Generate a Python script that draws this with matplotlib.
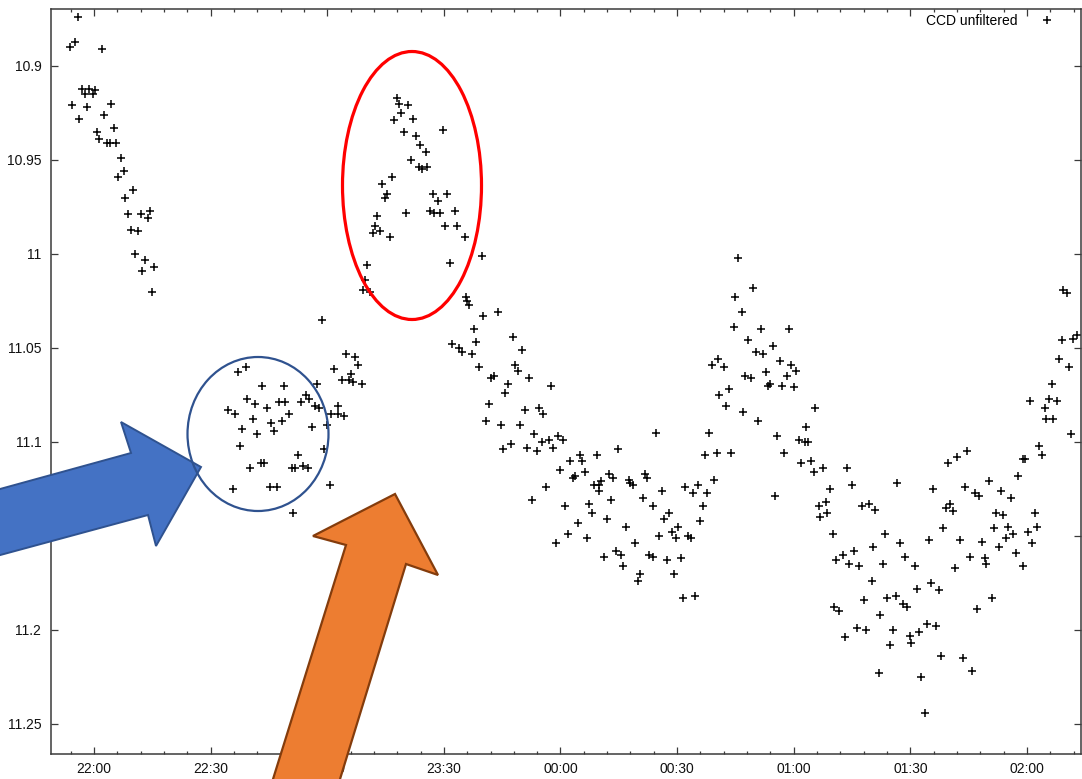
import matplotlib
matplotlib.use('Agg')
import matplotlib.pyplot as plt
from matplotlib.patches import Ellipse, Polygon
from matplotlib.ticker import FixedLocator, MultipleLocator, NullLocator

plt.rcParams['font.family'] = ['Liberation Sans', 'DejaVu Sans']

# ---------------- data: (minutes after 22:00, magnitude) ----------------
seg_a = [(-4.2, 10.874), (-4.9, 10.887), (-6.2, 10.890), (2.0, 10.891), (-3.0, 10.912),
         (-1.2, 10.912), (-2.3, 10.915), (-0.3, 10.915), (0.3, 10.913), (-5.6, 10.921),
         (-1.9, 10.922), (4.4, 10.920), (-3.8, 10.928), (2.5, 10.926), (5.1, 10.933),
         (0.7, 10.935), (1.4, 10.939), (3.3, 10.941), (4.1, 10.941), (5.7, 10.941),
         (6.9, 10.949), (7.6, 10.956), (6.2, 10.959), (10.0, 10.966), (8.1, 10.970),
         (8.7, 10.979), (12.0, 10.979), (14.3, 10.977), (13.9, 10.981), (9.5, 10.987),
         (11.3, 10.988), (10.5, 11.000), (13.1, 11.003), (12.4, 11.009), (15.5, 11.007),
         (15.0, 11.020)]

seg_b = [(58.6, 11.035), (64.8, 11.053), (67.1, 11.055), (68.0, 11.059), (61.8, 11.061),
         (66.0, 11.064), (63.7, 11.067), (65.7, 11.067), (66.7, 11.068), (57.4, 11.069),
         (68.9, 11.069), (37.1, 11.063), (39.0, 11.060), (43.2, 11.070), (48.9, 11.070),
         (39.4, 11.077), (41.4, 11.080), (44.4, 11.082), (47.5, 11.079), (49.2, 11.079),
         (53.2, 11.079), (54.5, 11.075), (55.4, 11.077), (56.8, 11.081), (57.9, 11.082),
         (34.6, 11.083), (36.4, 11.085), (50.1, 11.085), (40.8, 11.088), (45.6, 11.090),
         (48.3, 11.089), (46.4, 11.094), (38.2, 11.093), (41.9, 11.096), (56.2, 11.092),
         (60.0, 11.091), (62.8, 11.081), (61.0, 11.085), (62.7, 11.085), (64.4, 11.086),
         (37.6, 11.102), (59.2, 11.104), (52.5, 11.107), (43.0, 11.111), (43.8, 11.111),
         (40.1, 11.114), (50.9, 11.114), (51.8, 11.114), (53.8, 11.113), (55.1, 11.114),
         (35.7, 11.125), (45.3, 11.124), (47.0, 11.124), (60.7, 11.123), (51.3, 11.138)]

seg_c = [(77.9, 10.917), (78.4, 10.920), (80.9, 10.921), (79.1, 10.925), (77.3, 10.929),
         (82.1, 10.928), (79.7, 10.935), (89.7, 10.934), (82.8, 10.937), (83.9, 10.942),
         (85.4, 10.946), (81.5, 10.950), (83.7, 10.954), (84.5, 10.955), (85.7, 10.954),
         (76.6, 10.959), (74.2, 10.963), (74.8, 10.970), (75.4, 10.968), (87.3, 10.968),
         (90.9, 10.968), (88.4, 10.972), (80.3, 10.978), (86.4, 10.977), (87.4, 10.978),
         (89.0, 10.978), (92.8, 10.977), (72.9, 10.980), (72.2, 10.985), (71.7, 10.989),
         (73.6, 10.988), (76.1, 10.991), (90.3, 10.985), (93.5, 10.985), (95.4, 10.991),
         (99.7, 11.001), (91.6, 11.005), (70.3, 11.006), (69.7, 11.014), (69.1, 11.019),
         (71.0, 11.020), (95.7, 11.023)]

seg_d = [(95.9, 11.025), (96.5, 11.027), (100.1, 11.033), (103.8, 11.031), (97.7, 11.040),
         (107.7, 11.044), (92.0, 11.048), (98.3, 11.047), (94.0, 11.050), (94.6, 11.052),
         (97.2, 11.053), (110.2, 11.051), (99.0, 11.060), (108.3, 11.059), (109.0, 11.062),
         (102.0, 11.066), (103.0, 11.065), (112.0, 11.066), (106.4, 11.069), (105.7, 11.074),
         (117.5, 11.070), (101.5, 11.080), (110.8, 11.083), (114.5, 11.082), (115.6, 11.085),
         (100.8, 11.089), (104.6, 11.091), (109.6, 11.091), (113.2, 11.096), (115.2, 11.100),
         (117.1, 11.099), (119.4, 11.097), (120.7, 11.099), (105.3, 11.104), (107.2, 11.101),
         (111.4, 11.103), (113.9, 11.105), (118.1, 11.103), (122.4, 11.110), (125.0, 11.107),
         (125.5, 11.110), (129.3, 11.107), (134.7, 11.104), (144.7, 11.095), (120.0, 11.115),
         (116.4, 11.124), (123.1, 11.119), (123.8, 11.118), (126.4, 11.116), (132.5, 11.117),
         (133.6, 11.119), (128.5, 11.123), (130.0, 11.123), (130.4, 11.121), (129.8, 11.126),
         (137.7, 11.120), (138.0, 11.122), (138.6, 11.123), (141.7, 11.117), (142.3, 11.119),
         (146.0, 11.126), (112.7, 11.131), (121.2, 11.134), (127.4, 11.133), (133.0, 11.131),
         (141.1, 11.130), (143.7, 11.134), (128.1, 11.138), (131.9, 11.141), (124.5, 11.143),
         (136.8, 11.145), (121.9, 11.149), (126.8, 11.151), (148.0, 11.138), (146.6, 11.141),
         (150.3, 11.145), (148.6, 11.148), (149.7, 11.151), (145.4, 11.150), (152.9, 11.150),
         (153.5, 11.151), (152.0, 11.124), (154.0, 11.127), (155.4, 11.123), (157.8, 11.127),
         (156.6, 11.134), (155.9, 11.142), (159.5, 11.120), (157.2, 11.107), (160.2, 11.106),
         (158.3, 11.095), (159.0, 11.059), (160.6, 11.056), (160.8, 11.075), (118.8, 11.154),
         (131.2, 11.161), (134.3, 11.158), (135.5, 11.160), (136.2, 11.166), (139.2, 11.154),
         (140.4, 11.170), (139.9, 11.174), (142.8, 11.160), (143.9, 11.161), (147.3, 11.163),
         (151.0, 11.162), (149.2, 11.170), (151.6, 11.183), (154.7, 11.182)]

seg_e = [(165.7, 11.002), (169.4, 11.018), (165.0, 11.023), (166.6, 11.031), (164.6, 11.039),
         (171.5, 11.040), (178.8, 11.040), (168.3, 11.046), (170.2, 11.052), (172.0, 11.053),
         (174.6, 11.049), (176.4, 11.057), (179.3, 11.059), (180.7, 11.062), (162.1, 11.060),
         (172.8, 11.063), (167.4, 11.065), (169.0, 11.066), (178.2, 11.065), (173.3, 11.070),
         (173.9, 11.069), (177.0, 11.070), (180.1, 11.071), (163.4, 11.072), (162.7, 11.081),
         (167.0, 11.084), (170.9, 11.089), (185.6, 11.082), (183.1, 11.092), (175.7, 11.097),
         (181.3, 11.099), (182.9, 11.100), (183.8, 11.100), (163.8, 11.106), (177.5, 11.106),
         (181.8, 11.111), (184.5, 11.110), (185.1, 11.116), (187.5, 11.114), (193.7, 11.114),
         (194.9, 11.123), (189.4, 11.125), (175.2, 11.129), (186.4, 11.134), (188.3, 11.132),
         (188.6, 11.138), (186.7, 11.140), (197.5, 11.134), (199.3, 11.133), (201.0, 11.136),
         (206.5, 11.122), (190.2, 11.149), (203.6, 11.149)]

seg_f = [(215.9, 11.125), (219.8, 11.111), (222.0, 11.108), (224.6, 11.105), (224.1, 11.124),
         (226.7, 11.127), (227.7, 11.129), (230.3, 11.121), (233.3, 11.126), (235.8, 11.130),
         (220.2, 11.133), (219.1, 11.135), (221.0, 11.137), (218.4, 11.146), (232.0, 11.138),
         (233.9, 11.139), (237.6, 11.118), (238.9, 11.109), (239.5, 11.109), (243.1, 11.102),
         (243.8, 11.107), (231.5, 11.146), (235.2, 11.145), (236.4, 11.149), (234.6, 11.151),
         (240.2, 11.148), (242.7, 11.145), (242.0, 11.138), (251.2, 11.096), (240.7, 11.078),
         (244.6, 11.082), (245.7, 11.077), (247.6, 11.078), (244.9, 11.088), (246.7, 11.088),
         (246.4, 11.069), (248.3, 11.056), (250.8, 11.060), (248.9, 11.046), (251.9, 11.045),
         (252.8, 11.043), (249.3, 11.019), (250.2, 11.021)]

seg_g = [(214.8, 11.152), (222.9, 11.152), (228.4, 11.153), (207.3, 11.154), (200.4, 11.156),
         (191.0, 11.163), (192.6, 11.160), (195.5, 11.158), (194.3, 11.165), (196.8, 11.166),
         (203.0, 11.165), (208.5, 11.161), (211.1, 11.166), (200.1, 11.174), (225.3, 11.161),
         (229.1, 11.162), (229.4, 11.165), (221.6, 11.167), (232.8, 11.156), (241.3, 11.154),
         (237.1, 11.159), (239.0, 11.166), (211.8, 11.178), (215.4, 11.175), (217.3, 11.179),
         (198.1, 11.184), (204.1, 11.183), (206.2, 11.182), (208.0, 11.186), (209.2, 11.188),
         (231.0, 11.183), (190.3, 11.188), (191.7, 11.190), (202.3, 11.192), (227.1, 11.189),
         (196.2, 11.199), (198.6, 11.200), (205.5, 11.200), (193.1, 11.204), (210.0, 11.203),
         (210.2, 11.207), (212.3, 11.201), (214.2, 11.197), (216.6, 11.198), (204.7, 11.208),
         (218.0, 11.214), (223.6, 11.215), (225.8, 11.222), (201.9, 11.223), (212.8, 11.225),
         (213.7, 11.244)]

series_label = 'CCD unfiltered'
xtick_minutes = [0, 30, 60, 90, 120, 150, 180, 210, 240]
xtick_labels = ['22:00', '22:30', '23:00', '23:30', '00:00', '00:30', '01:00', '01:30', '02:00']
ytick_values = [10.9, 10.95, 11.0, 11.05, 11.1, 11.15, 11.2, 11.25]
ytick_labels = ['10.9', '10.95', '11', '11.05', '11.1', '11.15', '11.2', '11.25']

# ---------------- figure ----------------
W, H = 1082, 779
fig = plt.figure(figsize=(W / 100, H / 100), dpi=100)
fig.patch.set_facecolor('white')
ax = fig.add_axes([51 / W, 25 / H, 1030 / W, 745 / H])

points = seg_a + seg_b + seg_c + seg_d + seg_e + seg_f + seg_g
t_vals = [p[0] for p in points]
m_vals = [p[1] for p in points]
ax.plot(t_vals, m_vals, linestyle='none', marker='+', color='black',
        markersize=6.2, markeredgewidth=1.1, label=series_label)

ax.set_xlim(-11.06, 253.9)
ax.set_ylim(11.266, 10.8697)

ax.xaxis.set_major_locator(FixedLocator(xtick_minutes))
ax.set_xticklabels(xtick_labels)
ax.xaxis.set_minor_locator(MultipleLocator(6))
ax.yaxis.set_major_locator(FixedLocator(ytick_values))
ax.set_yticklabels(ytick_labels)
ax.yaxis.set_minor_locator(NullLocator())

spine_col = '#3a3a3a'
for s in ax.spines.values():
    s.set_color(spine_col)
    s.set_linewidth(1.1)
ax.tick_params(which='both', direction='in', top=True, right=True, color=spine_col,
               width=0.9, labelsize=10, labelcolor='#111111')
ax.tick_params(which='major', length=5)
ax.tick_params(which='minor', length=2.5)
ax.tick_params(axis='y', pad=7)
ax.tick_params(axis='x', pad=6)

ax.legend(loc='upper right', bbox_to_anchor=(0.9805, 0.993), markerfirst=False,
          frameon=False, fontsize=10, handlelength=2.0, handletextpad=1.16,
          borderaxespad=0, borderpad=0)

# ---------------- annotation overlays (figure pixel geometry) ----------------
def px(x, y):
    return (x / W, 1 - y / H)

red_ellipse = Ellipse(px(412, 185.5), 139 / W, 268 / H, transform=fig.transFigure,
                      fill=False, edgecolor='#ff0000', linewidth=2.3, zorder=10)
fig.add_artist(red_ellipse)

blue_arrow_px = [(201, 467), (121, 422), (131, 453), (-20, 494.5), (-20, 560.5),
                 (148, 515), (156, 546)]
blue_arrow = Polygon([px(x, y) for x, y in blue_arrow_px], closed=True,
                     transform=fig.transFigure, facecolor='#4472c4',
                     edgecolor='#2f528f', linewidth=1.4, zorder=11)
fig.add_artist(blue_arrow)

blue_ellipse = Ellipse(px(258, 434), 141 / W, 154 / H, transform=fig.transFigure,
                       fill=False, edgecolor='#2f528f', linewidth=1.6, zorder=12)
fig.add_artist(blue_ellipse)

orange_arrow_px = [(395, 494), (313, 536), (346, 545), (266.5, 800), (333.6, 800),
                   (406, 564), (438, 575)]
orange_arrow = Polygon([px(x, y) for x, y in orange_arrow_px], closed=True,
                       transform=fig.transFigure, facecolor='#ed7d31',
                       edgecolor='#843c0c', linewidth=1.6, zorder=11)
fig.add_artist(orange_arrow)

fig.savefig('out.png', dpi=100, facecolor='white')
